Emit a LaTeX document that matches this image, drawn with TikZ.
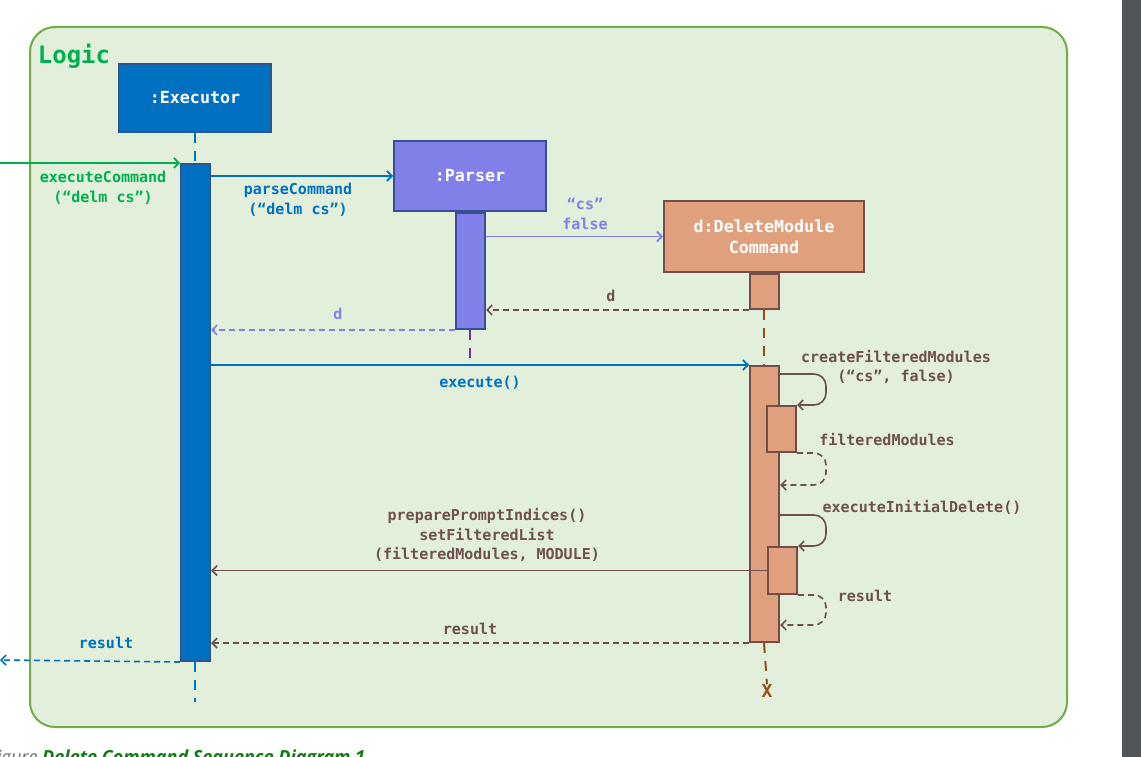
\documentclass[tikz,border=0pt]{standalone}
\usepackage{fontspec}
\setmainfont{DejaVu Sans}
\setmonofont{DejaVu Sans Mono}
\newfontfamily\capfont{Open Sans}
\usetikzlibrary{arrows.meta}

\definecolor{lgreen}{RGB}{0,176,80}
\definecolor{exeblue}{RGB}{0,112,192}
\definecolor{exeedge}{RGB}{45,85,145}
\definecolor{parsfill}{RGB}{128,128,232}
\definecolor{parsedge}{RGB}{55,80,150}
\definecolor{parslife}{RGB}{112,48,160}
\definecolor{dmcfill}{RGB}{224,160,125}
\definecolor{dmcedge}{RGB}{115,78,72}
\definecolor{dmclife}{RGB}{150,80,20}
\definecolor{brn}{RGB}{112,80,78}
\definecolor{framefill}{RGB}{226,239,218}
\definecolor{frameedge}{RGB}{112,173,71}
\definecolor{capgray}{RGB}{100,115,100}
\definecolor{capgreen}{RGB}{10,125,10}
\definecolor{barcol}{RGB}{82,86,90}

\tikzset{
  >={Straight Barb[length=5pt,width=10pt]},
  lbl/.style={font=\ttfamily\bfseries\fontsize{15}{19.5}\selectfont, align=center, inner sep=0pt},
  obj/.style={draw, line width=2pt, inner sep=0pt, text=white, align=center,
    font=\ttfamily\bfseries\fontsize{16.7}{21}\selectfont},
  act/.style={draw, line width=2pt, inner sep=0pt, minimum width=29pt},
  life/.style={line width=2pt, dash pattern=on 10pt off 8pt},
  msg/.style={->, line width=1.6pt},
  ret/.style={->, line width=1.6pt, dash pattern=on 6pt off 4pt},
}

\begin{document}
\begin{tikzpicture}[x=1pt, y=-1pt]
  \useasboundingbox (0,0) rectangle (1141,757);
  \clip (0,0) rectangle (1141,757);
  \fill[white] (0,0) rectangle (1141,757);
  \fill[barcol] (1122,0) rectangle (1141,757);

  % frame
  \draw[fill=framefill, draw=frameedge, line width=2pt, rounded corners=25pt] (30,27) rectangle (1067,727);
  \node[font=\ttfamily\bfseries\fontsize{24}{24}\selectfont, text=lgreen, inner sep=0pt] (logic) at (74,56) {Logic};

  % objects
  \node[obj, fill=exeblue, draw=exeedge, minimum width=152pt, minimum height=68pt] (executor) at (195,98) {:Executor};
  \node[obj, fill=parsfill, draw=parsedge, minimum width=152pt, minimum height=70pt] (parser) at (470,176) {:Parser};
  \node[obj, fill=dmcfill, draw=dmcedge, minimum width=200pt, minimum height=71pt] (dmc) at (764,236.5) {d:DeleteModule\\Command};
  \node[font=\ttfamily\bfseries\fontsize{18}{18}\selectfont, text=dmclife, inner sep=0pt] (dmcx) at (767,691) {X};
  \coordinate (exeend) at (195,702);
  \coordinate (parsend) at (470,362);
  \coordinate (instart) at (0,163);
  \coordinate (outend) at (0,660);

  % lifelines
  \draw[life, exeblue] (executor.south) -- (195,163);
  \draw[life, exeblue] (195,662) -- (exeend);
  \draw[life, parslife] (470,330) -- (parsend);
  \draw[life, dmclife] (764,310) -- (764,365);
  \draw[life, dmclife] (764,643) -- (dmcx.north);

  % activations
  \node[act, fill=exeblue, draw=exeedge, minimum height=497pt] (exeact) at (195.5,412.5) {};
  \node[act, fill=parsfill, draw=parsedge, minimum height=116pt] (parsact) at (470.5,271) {};
  \node[act, fill=dmcfill, draw=dmcedge, minimum height=35pt] (dmcact0) at (764.5,291.5) {};
  \node[act, fill=dmcfill, draw=dmcedge, minimum height=276pt] (dmcact) at (764.5,504) {};
  \node[act, fill=dmcfill, draw=dmcedge, minimum height=46pt] (nest1) at (781.5,429) {};
  \node[act, fill=dmcfill, draw=dmcedge, minimum height=47pt] (nest2) at (782.5,570.5) {};

  % messages
  \draw[msg, lgreen] (instart) -- (exeact.north west);
  \node[lbl, text=lgreen] (l1) at (103,188) {executeCommand\\(“delm cs”)};

  \draw[msg, exeblue] (exeact.east |- parser.west) -- (parser.west);
  \node[lbl, text=exeblue] (l2) at (298,200) {parseCommand\\(“delm cs”)};

  \draw[msg, parsfill] (parsact.east |- dmc.west) -- (dmc.west);
  \node[lbl, text=parsfill] (l3) at (585,214) {“cs”\\false};

  \draw[ret, brn] (dmcact0.south west) -- (parsact.east |- dmcact0.south);
  \node[lbl, text=brn] (l4) at (611,296) {d};

  \draw[ret, parsfill] (parsact.south west) -- (exeact.east |- parsact.south);
  \node[lbl, text=parsfill] (l5) at (338,314) {d};

  \draw[msg, exeblue] (exeact.east |- dmcact.north) -- (dmcact.north west);
  \node[lbl, text=exeblue] (l6) at (480,383) {execute()};

  \draw[msg, brn, rounded corners=12pt] ([yshift=-9pt]dmcact.north east) -- ++(46pt,0pt) |- (nest1.north east);
  \node[lbl, text=brn] (l7) at (896,367) {createFilteredModules\\(“cs”, false)};

  \draw[ret, brn, rounded corners=12pt] (nest1.south east) -- ++(29pt,0pt) |- ([yshift=-32pt]nest1.south -| dmcact.east);
  \node[lbl, text=brn] (l8) at (887,440) {filteredModules};

  \draw[msg, brn, rounded corners=12pt] ([yshift=-150pt]dmcact.north east) -- ++(46pt,0pt) |- (nest2.north east);
  \node[lbl, text=brn] (l9) at (922,507) {executeInitialDelete()};

  \draw[msg, brn] (nest2.west) -- (exeact.east |- nest2.west);
  \node[lbl, text=brn] (l10) at (487,535) {preparePromptIndices()\\setFilteredList\\(filteredModules, MODULE)};

  \draw[ret, brn, rounded corners=12pt] (nest2.south east) -- ++(28pt,0pt) |- ([yshift=-30pt]nest2.south -| dmcact.east);
  \node[lbl, text=brn] (l11) at (865,596) {result};

  \draw[ret, brn] (dmcact.south west) -- (exeact.east |- dmcact.south);
  \node[lbl, text=brn] (l12) at (470,629) {result};

  \draw[ret, exeblue] (exeact.south west) -- (outend);
  \node[lbl, text=exeblue] (l13) at (106,643) {result};

  % caption
  \node[anchor=base west, inner sep=0pt, font=\capfont\itshape\fontsize{18}{18}\selectfont] (cap) at (-3,763)
    {\textcolor{capgray}{igure} \textcolor{capgreen}{\bfseries Delete Command Sequence Diagram 1}};
\end{tikzpicture}
\end{document}
